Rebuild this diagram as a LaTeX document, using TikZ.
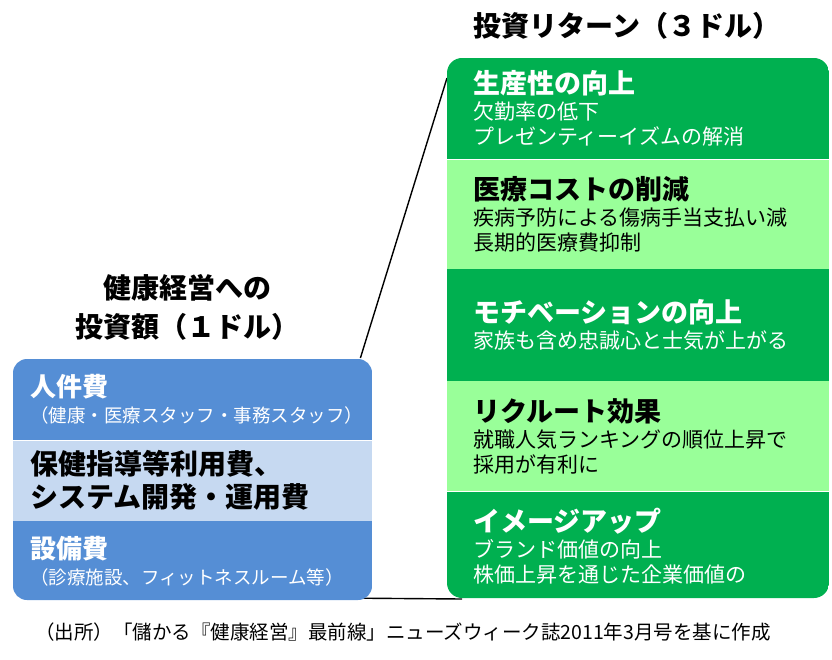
\documentclass[tikz,border=0pt]{standalone}
\usepackage{fontspec}
\setmainfont{Noto Sans CJK JP}
\usepackage{xcolor}
\usepackage{tikz}
\usetikzlibrary{positioning, backgrounds}

\definecolor{retdark}{HTML}{00B050}
\definecolor{retlight}{HTML}{99FF99}
\definecolor{costdark}{HTML}{558ED5}
\definecolor{costlight}{HTML}{C6D9F1}

\newcommand{\rethead}[1]{{\fontsize{27}{30}\selectfont\bfseries #1}}
\newcommand{\costhead}[1]{{\fontsize{26}{30}\selectfont\bfseries #1}}

\begin{document}
\begin{tikzpicture}[x=1pt, y=-1pt,
    rsec/.style={minimum width=382pt, inner xsep=26pt, inner ysep=0pt, text width=330pt, align=left, font=\fontsize{21}{25}\selectfont},
    lsec/.style={minimum width=359pt, inner xsep=17pt, inner ysep=0pt, text width=325pt, align=left, font=\fontsize{18.5}{22}\selectfont},
    title/.style={font=\fontsize{28}{39}\selectfont\bfseries, align=center}]
    \useasboundingbox (0,0) rectangle (832,660);

    % Titles
    \node[title] (rettitle) at (627,26) {投資リターン（３ドル）};
    \node[title] (costtitle) at (187,307) {健康経営への\\投資額（１ドル）};

    % Investment box
    \begin{scope}
        \clip[rounded corners=14pt] (13,359) rectangle (372,600);
        \node[lsec, fill=costdark, text=white, minimum height=81pt, anchor=north west] (l1) at (13,359)
            {\costhead{人件費}\\[4pt]（健康・医療スタッフ・事務スタッフ）};
        \node[lsec, fill=costlight, minimum height=80pt, below=0pt of l1,
            font=\fontsize{28}{33}\selectfont\bfseries] (l2)
            {保健指導等利用費、\\システム開発・運用費};
        \node[lsec, fill=costdark, text=white, minimum height=80pt, below=0pt of l2] (l3)
            {\costhead{設備費}\\[4pt]（診療施設、フィットネスルーム等）};
    \end{scope}

    % Return box
    \begin{scope}
        \clip[rounded corners=15pt] (447,58) rectangle (829,598);
        \node[rsec, fill=retdark, text=white, minimum height=101pt, anchor=north west] (r1) at (447,58)
            {\rethead{生産性の向上}\\[1pt]欠勤率の低下\\プレゼンティーイズムの解消};
        \node[rsec, fill=retlight, minimum height=109pt, below=0pt of r1] (r2)
            {\rethead{医療コストの削減}\\[1pt]疾病予防による傷病手当支払い減\\長期的医療費抑制};
        \node[rsec, fill=retdark, text=white, minimum height=112pt, below=0pt of r2] (r3)
            {\rethead{モチベーションの向上}\\[1pt]家族も含め忠誠心と士気が上がる};
        \node[rsec, fill=retlight, minimum height=110pt, below=0pt of r3] (r4)
            {\rethead{リクルート効果}\\[1pt]就職人気ランキングの順位上昇で\\採用が有利に};
        \node[rsec, fill=retdark, text=white, minimum height=108pt, below=0pt of r4] (r5)
            {\rethead{イメージアップ}\\[1pt]ブランド価値の向上\\株価上昇を通じた企業価値の};
    \end{scope}

    % Zoom lines
    \coordinate (ltop) at ([xshift=-12pt,yshift=1pt]l1.north east);
    \coordinate (rtop) at ([yshift=-20pt]r1.north west);
    \coordinate (lbot) at ([xshift=-12pt,yshift=3pt]l3.south east);
    \coordinate (rbot) at ([xshift=15pt,yshift=1pt]r5.south west);
    \begin{scope}[on background layer]
        \draw[line width=1.4pt] (ltop) -- (rtop);
        \draw[line width=1.4pt] (lbot) -- (rbot);
    \end{scope}

    % Source
    \node[font=\fontsize{19.5}{22}\selectfont] (source) at (403,632)
        {（出所）「儲かる『健康経営』最前線」ニューズウィーク誌2011年3月号を基に作成};
\end{tikzpicture}
\end{document}
